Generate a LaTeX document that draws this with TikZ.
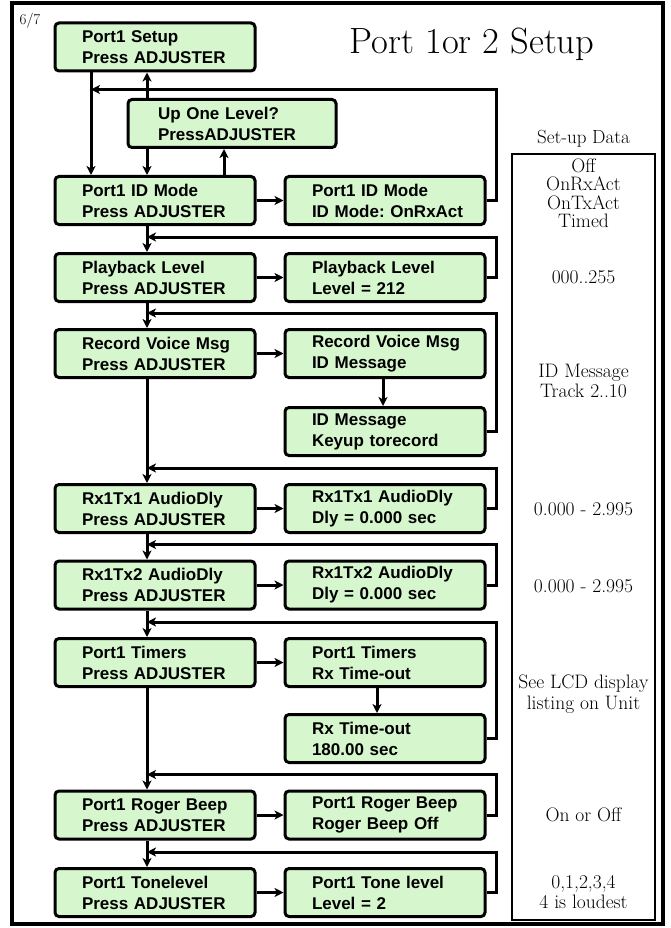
\documentclass[tikz,border=0pt]{standalone}
\usepackage{fontspec}
\newfontfamily\lcdfont{Liberation Sans}
\usetikzlibrary{arrows.meta}
\definecolor{lcdgreen}{RGB}{214,247,206}
\tikzset{
  lcdbox/.style={draw, line width=3pt, rounded corners=4pt, fill=lcdgreen, text width=194pt, inner xsep=3pt, inner ysep=0pt,
    minimum height=48pt, align=left, font=\lcdfont\bfseries\fontsize{17}{21}\selectfont\frenchspacing,
    execute at begin node={\leftskip=24pt}},
  arr/.style={line width=3pt, -{Stealth[length=9pt,width=9pt,inset=2.5pt]}},
  datatext/.style={font=\fontsize{19.5}{20.5}\selectfont, align=center, inner sep=0pt}
}
\begin{document}
\begin{tikzpicture}[x=1pt,y=-1pt]
\useasboundingbox (0,0) rectangle (670,928);
\draw[line width=3.5pt] (12,3) rectangle (663,924);
\node[font=\fontsize{15}{15}\selectfont] (page) at (30,21) {6/7};
\node[font=\fontsize{36.5}{40}\selectfont, anchor=base] (title) at (472,54) {Port 1or 2 Setup};

\node[lcdbox] (setup) at (155,47) {Port1 Setup\\Press ADJUSTER};
\node[lcdbox, text width=202pt, execute at begin node={\leftskip=27pt}] (up) at (232,123.5) {Up One Level?\\PressADJUSTER};

\foreach \n/\y/\t in {idmode/200.5/Port1 ID Mode, play/277.5/Playback Level, rec/353.5/Record Voice Msg,
    rx1/508.5/Rx1Tx1 AudioDly, rx2/585/Rx1Tx2 AudioDly, tim/662.5/Port1 Timers,
    roger/815/Port1 Roger Beep, tone/892.5/Port1 Tonelevel}
  \node[lcdbox] (\n) at (155,\y) {\t\\Press ADJUSTER};

\foreach \n/\y/\a/\b in {idmode-r/200.5/Port1 ID Mode/ID Mode: OnRxAct, play-r/277.5/Playback Level/Level = 212,
    rec-r/353.5/Record Voice Msg/ID Message, rec-k/431.5/ID Message/Keyup torecord,
    rx1-r/508.5/Rx1Tx1 AudioDly/Dly = 0.000 sec, rx2-r/585/Rx1Tx2 AudioDly/Dly = 0.000 sec,
    tim-r/662.5/Port1 Timers/Rx Time-out, tim-t/738.5/Rx Time-out/180.00 sec,
    roger-r/815/Port1 Roger Beep/Roger Beep Off, tone-r/892.5/Port1 Tone level/Level = 2}
  \node[lcdbox] (\n) at (385,\y) {\a\\\b};

\draw[arr] ([xshift=-64pt]setup.south) -- ([xshift=-64pt]idmode.north);
\draw[arr] ([xshift=-85pt]up.north) -- ([xshift=-8pt]setup.south);
\draw[arr] ([xshift=-85pt]up.south) -- ([xshift=-8pt]idmode.north);
\draw[arr] ([xshift=69pt]idmode.north) -- ([xshift=-8pt]up.south);
\draw[arr] (idmode-r.east) -- ++(10,0) |- ([xshift=-64pt,yshift=-17pt]setup.south);

\foreach \n in {idmode,play,rec,rx1,rx2,tim,roger,tone}
  \draw[arr] (\n.east) -- (\n-r.west);
\foreach \a/\b in {idmode/play, play/rec, rec/rx1, rx1/rx2, rx2/tim, tim/roger, roger/tone}
  \draw[arr] ([xshift=-8pt]\a.south) -- ([xshift=-8pt]\b.north);
\foreach \n/\m in {play/play-r, rec/rec-k, rx1/rx1-r, rx2/rx2-r, tim/tim-t, roger/roger-r, tone/tone-r}
  \draw[arr] (\m.east) -- ++(10,0) |- ([xshift=-8pt,yshift=15pt]\n.north);
\draw[arr] ([xshift=-2pt]rec-r.south) -- ([xshift=-2pt]rec-k.north);
\draw[arr] ([xshift=-8pt]tim-r.south) -- ([xshift=-8pt]tim-t.north);

\node[font=\fontsize{19}{20}\selectfont, anchor=base] (datahead) at (583.5,144) {Set-up Data};
\draw[line width=2.6pt] (512,154) rectangle (655,920);
\node[datatext, font=\fontsize{19.5}{18.5}\selectfont] (d1) at (583.5,193) {Off\\OnRxAct\\OnTxAct\\Timed};
\node[datatext] (d2) at (583.5,277) {000..255};
\node[datatext] (d3) at (583.5,381) {ID Message\\Track 2..10};
\node[datatext] (d4) at (583.5,509) {0.000 - 2.995};
\node[datatext] (d5) at (583.5,586) {0.000 - 2.995};
\node[datatext] (d6) at (583.5,694) {See LCD display\\listing on Unit};
\node[datatext] (d7) at (583.5,815) {On or Off};
\node[datatext] (d8) at (583.5,892) {0,1,2,3,4\\4 is loudest};
\end{tikzpicture}
\end{document}
